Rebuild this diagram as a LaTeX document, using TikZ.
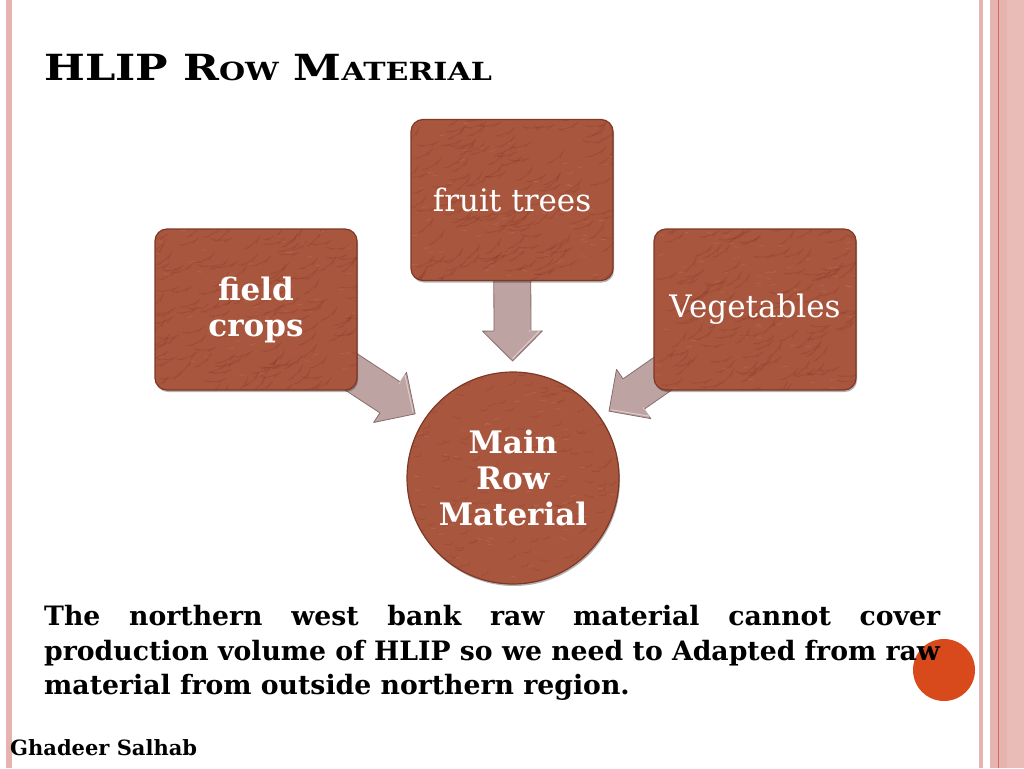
\documentclass[tikz,border=0pt]{standalone}
\usepackage{fontspec}
\setmainfont{DejaVu Serif}
\usetikzlibrary{calc,shadows}
\pgfdeclarelayer{paper}
\pgfdeclarelayer{arrowlayer}
\pgfsetlayers{paper,arrowlayer,main}
\definecolor{brick}{HTML}{A9563F}
\definecolor{brickdark}{HTML}{7E3826}
\definecolor{bricklight}{HTML}{C98066}
\definecolor{fleck}{HTML}{8A3823}
\definecolor{arrowc}{HTML}{BEA3A3}
\definecolor{arrowd}{HTML}{8A6C6C}
\definecolor{borderpink}{HTML}{E6B4B0}
\definecolor{borderpinkl}{HTML}{E9BCB8}
\definecolor{borderred}{HTML}{D96A5A}
\definecolor{dotorange}{HTML}{D8491B}
\tikzset{
  fleckline/.style={draw=fleck, line width=0.8pt, opacity=0.3, line cap=round},
  fleckl/.style={draw=bricklight, line width=0.7pt, opacity=0.35, line cap=round},
  textured/.style={fill=brick, draw=brickdark, line width=1.2pt, text=white, align=center,
    drop shadow={shadow xshift=1pt, shadow yshift=-2pt, opacity=0.3, fill=black},
    path picture={
      \foreach \k in {1,...,170}{
        \pgfmathsetmacro\px{(rnd-0.5)*210}
        \pgfmathsetmacro\py{(rnd-0.5)*210}
        \pgfmathsetmacro\pa{rnd*50-25}
        \draw[fleckline] ($(path picture bounding box.center)+(\px pt,\py pt)$) -- ++(\pa:6pt) -- ++(\pa+50:3pt);
      }
      \foreach \k in {1,...,80}{
        \pgfmathsetmacro\px{(rnd-0.5)*210}
        \pgfmathsetmacro\py{(rnd-0.5)*210}
        \pgfmathsetmacro\pa{rnd*40-20}
        \draw[fleckl] ($(path picture bounding box.center)+(\px pt,\py pt)$) -- ++(\pa:5pt);
      }
    }},
  stepbox/.style={textured, rectangle, rounded corners=12pt, minimum width=202pt, minimum height=161pt},
  hubcircle/.style={textured, circle, minimum size=212pt, inner sep=0pt},
  boldtxt/.style={font={\bfseries\fontsize{31pt}{36pt}\selectfont}},
  regtxt/.style={font={\fontsize{31pt}{36pt}\selectfont}},
  bodytxt/.style={font={\bfseries\fontsize{26.7pt}{34pt}\selectfont}, inner sep=0pt, anchor=base west},
  fatarrow/.style={fill=arrowc, draw=arrowd, line width=0.8pt, line join=round}
}
\newcommand\fatarrow[2]{%
  \path ($(#2.center)!117pt!(#1.center)$) coordinate (T)
        ($(T)!30pt!(#1.center)$) coordinate (B)
        ($(B)!100pt!(#1.center)$) coordinate (S);
  \filldraw[fatarrow] ($(S)!18.5pt!90:(T)$) -- ($(B)!18.5pt!90:(T)$) -- ($(B)!30pt!90:(T)$)
     -- (T) -- ($(B)!30pt!-90:(T)$) -- ($(B)!18.5pt!-90:(T)$) -- ($(S)!18.5pt!-90:(T)$) -- cycle;
  \draw[white, opacity=0.45, line width=1pt] ($(B)!16.5pt!90:(T)$) -- ($(B)!27pt!90:(T)$) -- ($(T)!2.5pt!(B)$);
}
\begin{document}
\begin{tikzpicture}[x=1pt,y=-1pt]
\useasboundingbox (0,0) rectangle (1024,768);
\begin{pgfonlayer}{paper}
\fill[white] (0,0) rectangle (1024,768);
\fill[borderpink] (6,0) rectangle (12,768);
\fill[borderpink] (979,0) rectangle (983,768);
\fill[borderpink] (990,0) rectangle (1024,768);
\fill[borderpinkl] (1007,0) rectangle (1024,768);
\fill[borderred] (997.5,0) rectangle (999,768);
\end{pgfonlayer}
% title
\node[anchor=base west, inner sep=0pt, font={\bfseries\fontsize{36pt}{40pt}\selectfont}] (title) at (44,80)
  {\scalebox{1.2}[1]{HLIP R{\fontsize{25pt}{26pt}\selectfont OW} M{\fontsize{25pt}{26pt}\selectfont ATERIAL}}};
% diagram
\pgfmathsetseed{11}
\node[stepbox, boldtxt] (fc) at (256,309.5) {field\\crops};
\node[stepbox, regtxt] (ft) at (512,200) {fruit trees};
\node[stepbox, regtxt] (veg) at (755,309.5) {Vegetables};
\node[hubcircle, boldtxt] (main) at (513,478) {Main\\Row\\Material};
\begin{pgfonlayer}{arrowlayer}
\fatarrow{fc}{main}
\fatarrow{ft}{main}
\fatarrow{veg}{main}
\end{pgfonlayer}
% orange dot
\fill[dotorange] (944,670) circle (31pt);
% body text
\node[bodytxt] (l1) at (44,625) {\makebox[896pt][s]{The northern west bank raw material cannot cover}};
\node[bodytxt] (l2) at (44,660) {production volume of HLIP so we need to Adapted from raw};
\node[bodytxt] (l3) at (44,694) {material from outside northern region.};
\node[anchor=base west, inner sep=0pt, font={\bfseries\fontsize{21pt}{24pt}\selectfont}] (author) at (10,755) {Ghadeer Salhab};
\end{tikzpicture}
\end{document}
